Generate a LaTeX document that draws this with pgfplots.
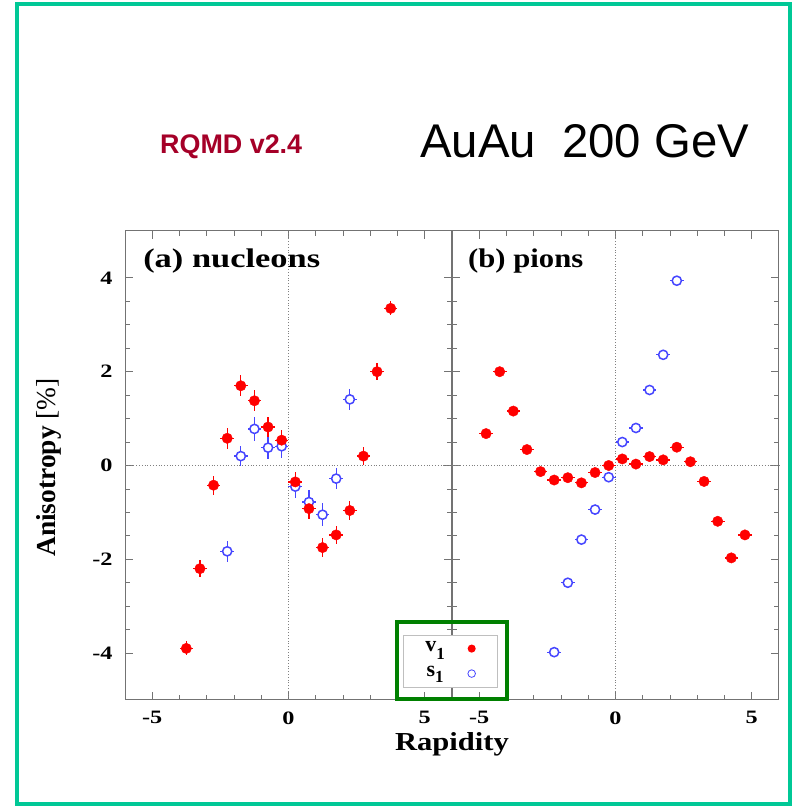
\documentclass[border=0pt]{standalone}
\usepackage{fontspec}
\setmainfont{Liberation Serif}
\newfontfamily\arialfont{Liberation Sans}
\usepackage{pgfplots}
\pgfplotsset{compat=1.18}
\usepackage{pgfplotstable}

\definecolor{bordercol}{RGB}{0,200,150}
\definecolor{rqmdcol}{RGB}{165,0,40}
\definecolor{ptblue}{RGB}{70,70,255}
\definecolor{ptred}{RGB}{255,0,0}
\definecolor{boxgreen}{RGB}{0,128,0}

\pgfplotstableread{
x y ex ey
-3.75 -3.90 0.25 0.15
-3.25 -2.20 0.25 0.18
-2.75 -0.42 0.25 0.20
-2.25 0.58 0.25 0.22
-1.75 1.70 0.25 0.22
-1.25 1.38 0.25 0.22
-0.75 0.82 0.25 0.22
-0.25 0.54 0.25 0.22
0.25 -0.35 0.25 0.22
0.75 -0.92 0.25 0.22
1.25 -1.75 0.25 0.20
1.75 -1.48 0.25 0.20
2.25 -0.96 0.25 0.20
2.75 0.20 0.25 0.20
3.25 2.00 0.25 0.18
3.75 3.35 0.25 0.15
}\nucvone

\pgfplotstableread{
x y ex ey
-2.25 -1.83 0.25 0.22
-1.75 0.20 0.25 0.22
-1.25 0.78 0.25 0.25
-0.75 0.38 0.25 0.25
-0.25 0.41 0.25 0.25
0.25 -0.45 0.25 0.25
0.75 -0.78 0.25 0.25
1.25 -1.05 0.25 0.25
1.75 -0.28 0.25 0.22
2.25 1.41 0.25 0.22
}\nucsone

\pgfplotstableread{
x y ex ey
-4.75 0.68 0.25 0.08
-4.25 2.00 0.25 0.06
-3.75 1.16 0.25 0.06
-3.25 0.34 0.25 0.05
-2.75 -0.13 0.25 0.05
-2.25 -0.31 0.25 0.05
-1.75 -0.26 0.25 0.05
-1.25 -0.37 0.25 0.05
-0.75 -0.15 0.25 0.05
-0.25 0.00 0.25 0.05
0.25 0.14 0.25 0.05
0.75 0.03 0.25 0.05
1.25 0.19 0.25 0.05
1.75 0.12 0.25 0.05
2.25 0.39 0.25 0.05
2.75 0.08 0.25 0.05
3.25 -0.34 0.25 0.05
3.75 -1.19 0.25 0.05
4.25 -1.97 0.25 0.05
4.75 -1.48 0.25 0.08
}\pionvone

\pgfplotstableread{
x y ex ey
-2.25 -3.98 0.25 0.04
-1.75 -2.50 0.25 0.04
-1.25 -1.58 0.25 0.04
-0.75 -0.94 0.25 0.04
-0.25 -0.25 0.25 0.04
0.25 0.50 0.25 0.04
0.75 0.80 0.25 0.04
1.25 1.61 0.25 0.04
1.75 2.36 0.25 0.04
2.25 3.94 0.25 0.04
}\pionsone

\pgfplotsset{
  panel/.style={
    width=327bp, height=469bp, scale only axis,
    xmin=-6, xmax=6, ymin=-5, ymax=5,
    xtick={-5,0,5}, xticklabels={-5,0,5},
    minor x tick num=4,
    ytick={-4,-2,0,2,4},
    minor y tick num=3,
    tick align=inside,
    xtick pos=both, ytick pos=both,
    major tick length=8bp, minor tick length=5bp,
    axis line style={black!55, line width=1bp},
    every tick/.style={black!55, line width=0.8bp},
    tick label style={font=\fontsize{19}{19}\selectfont\bfseries, xscale=1.28, black},
    xticklabel shift=8bp,
    yticklabel shift=8bp,
    clip=false,
  },
  v1err/.style={only marks, mark=*, mark size=5.2bp, color=ptred,
    mark options={fill=ptred, draw=ptred},
    error bars/x dir=both, error bars/x explicit,
    error bars/y dir=both, error bars/y explicit,
    error bars/error mark=none,
    error bars/error bar style={line width=1.3bp, ptred}},
  s1err/.style={only marks, mark=*, mark size=4.6bp, color=ptblue,
    mark options={fill=white, draw=ptblue, line width=1.5bp},
    error bars/x dir=both, error bars/x explicit,
    error bars/y dir=both, error bars/y explicit,
    error bars/error mark=none,
    error bars/error bar style={line width=1.3bp, ptblue}},
}

\begin{document}
\begin{tikzpicture}
\path[use as bounding box] (0bp,0bp) rectangle (798bp,808bp);

\begin{axis}[panel, at={(125bp,108bp)}, anchor=south west,
  yticklabels={-4,-2,0,2,4}]
\draw[black!50, dotted, line width=0.8bp] (axis cs:0,-5) -- (axis cs:0,5);
\draw[black!50, dotted, line width=0.8bp] (axis cs:-6,0) -- (axis cs:6,0);
\addplot[s1err] table[x=x, y=y, x error=ex, y error=ey] {\nucsone};
\addplot[v1err] table[x=x, y=y, x error=ex, y error=ey] {\nucvone};
\end{axis}

\begin{axis}[panel, at={(452bp,108bp)}, anchor=south west,
  yticklabels={},
  legend plot pos=right,
  legend cell align=left,
  legend image code/.code={\draw[#1] plot coordinates {(0bp,2.5bp)};},
  legend style={at={(rel axis cs:-0.1503,0.0256)}, anchor=south west,
    draw=black!25, line width=1.2bp, fill=white,
    inner xsep=22bp, inner ysep=3.3bp, row sep=5bp,
    nodes={inner sep=0pt, anchor=base, text height=12bp, text depth=8bp,
      font=\fontsize{22}{22}\selectfont\bfseries},
    /tikz/every odd column/.append style={column sep=23bp}},
  ]
\addlegendimage{only marks, mark=*, mark size=3.4bp, ptred}
\addlegendentry{v\raisebox{-8bp}{\fontsize{17}{17}\selectfont\bfseries 1}}
\addlegendimage{only marks, mark=o, mark size=3.8bp, ptblue, line width=0.8bp}
\addlegendentry{s\raisebox{-6bp}{\fontsize{17}{17}\selectfont\bfseries 1}}
\draw[black!50, dotted, line width=0.8bp] (axis cs:0,-5) -- (axis cs:0,5);
\draw[black!50, dotted, line width=0.8bp] (axis cs:-6,0) -- (axis cs:6,0);
\addplot[forget plot, v1err] table[x=x, y=y, x error=ex, y error=ey] {\pionvone};
\addplot[forget plot, s1err] table[x=x, y=y, x error=ex, y error=ey] {\pionsone};
\end{axis}

\begin{scope}[x=1bp, y=1bp]
% green legend frame
\draw[line width=4bp, boxgreen] (397,109) rectangle (507,186);

% panel labels
\node[anchor=base west, inner sep=0pt, xscale=1.28, font=\fontsize{27}{27}\selectfont\bfseries] at (143,540.5) {(a) nucleons};
\node[anchor=base west, inner sep=0pt, xscale=1.14, font=\fontsize{27}{27}\selectfont\bfseries] at (468,540.5) {(b) pions};

% axis titles
\node[anchor=base, inner sep=0pt, xscale=1.18, font=\fontsize{26}{26}\selectfont\bfseries] at (452,58) {Rapidity};
\node[anchor=base, inner sep=0pt, rotate=90, font=\fontsize{27.5}{27.5}\selectfont] at (55.8,340.5) {\textbf{Anisotropy} [\%]};

% titles
\node[anchor=base west, inner sep=0pt, font=\arialfont\fontsize{47.5}{47.5}\selectfont] at (420,650) {AuAu\ \ 200 GeV};
\node[anchor=base west, inner sep=0pt, text=rqmdcol, font=\arialfont\bfseries\fontsize{27}{27}\selectfont] at (160,654) {RQMD v2.4};

% border
\draw[line width=4bp, bordercol] (17,4) rectangle (790,804);
\end{scope}
\end{tikzpicture}
\end{document}
